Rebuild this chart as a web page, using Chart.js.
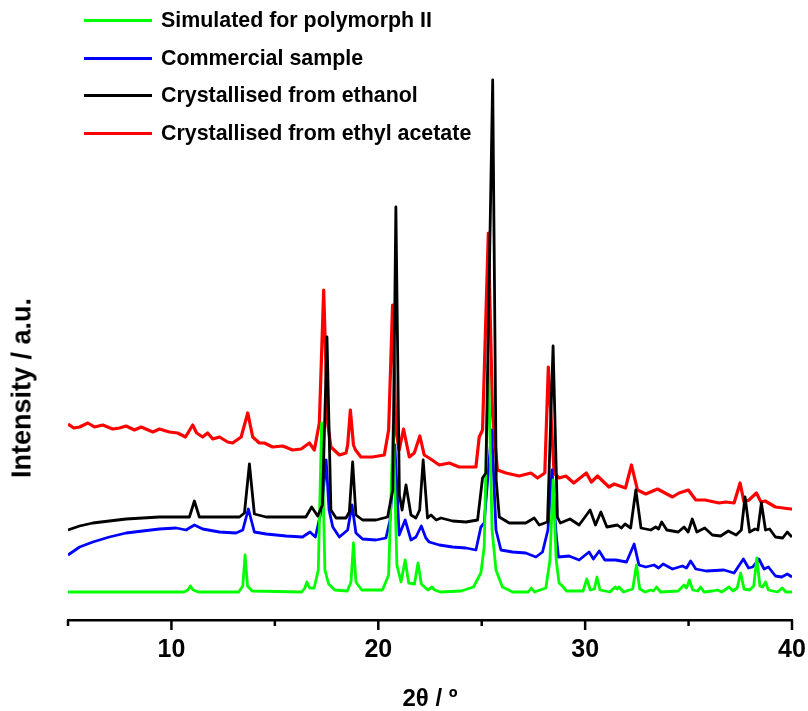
<!DOCTYPE html>
<html>
<head>
<meta charset="utf-8">
<title>PXRD patterns</title>
<script src="https://cdn.jsdelivr.net/npm/chart.js@4.4.1/dist/chart.umd.min.js"></script>
<style>
    body { margin: 0; background: #fff; }
    #wrap { position: relative; width: 808px; height: 711px; font-family: Arial, 'Liberation Sans', sans-serif; color: #000; }
    #xrdChart { position: absolute; left: 0; top: 0; }
    .xrd-legend { position: absolute; left: 84px; top: 2px; }
    .xrd-legend-row { display: flex; align-items: center; height: 37.6px; font-weight: bold; font-size: 21.4px; white-space: nowrap; }
    .xrd-legend-line { display: inline-block; width: 68px; height: 3px; margin-right: 9px; }
    .xrd-y-title { position: absolute; left: 22px; top: 388px; transform: translate(-50%, -50%) rotate(-90deg); font-weight: bold; font-size: 27px; white-space: nowrap; }
</style>
</head>
<body>
<div id="wrap">
    <canvas id="xrdChart" width="808" height="711"></canvas>
    <div class="xrd-legend" id="xrdLegend"></div>
    <div class="xrd-y-title">Intensity / a.u.</div>
</div>
<script>
// legend order, top to bottom
const seriesNames = ['Simulated for polymorph II', 'Commercial sample', 'Crystallised from ethanol', 'Crystallised from ethyl acetate'];
const seriesColors = ['#00ff00', '#0000ff', '#000000', '#ff0000'];
// drawing order: black on top, red at the back
const seriesOrder = [1, 2, 0, 3];

const angleMin = 5;
const angleMax = 40;
const angleStep = 5;
const intensityMax = 560;

// [2theta, intensity]
const simulatedPattern = [
    [5, 28], [10.6, 28], [10.8, 30], [10.92, 34], [11.05, 30], [11.3, 28], [13.25, 28], [13.45, 34], [13.56, 65],
    [13.68, 34], [13.9, 29], [16.3, 28], [16.45, 32], [16.55, 38], [16.68, 32], [16.9, 32], [17.1, 50], [17.26, 197],
    [17.42, 50], [17.6, 36], [17.9, 30], [18.5, 29], [18.68, 38], [18.8, 77], [18.92, 38], [19.2, 30], [20.2, 30],
    [20.5, 45], [20.72, 195], [20.9, 55], [21.1, 38], [21.3, 60], [21.47, 37], [21.75, 36], [21.92, 57], [22.08, 36],
    [22.4, 30], [22.6, 33], [22.72, 30], [23.0, 28], [24.0, 29], [24.6, 33], [24.96, 47], [25.12, 73], [25.32, 260],
    [25.5, 90], [25.69, 50], [26.0, 33], [26.5, 28], [27.25, 28], [27.4, 32], [27.55, 28], [28.1, 32], [28.3, 60],
    [28.45, 140], [28.6, 60], [28.74, 37], [28.9, 34], [29.1, 29], [29.9, 29], [30.08, 41], [30.25, 30], [30.45, 31],
    [30.57, 43], [30.72, 30], [31.2, 28], [31.45, 33], [31.55, 31], [31.64, 33], [31.85, 28], [32.3, 31], [32.48, 55],
    [32.64, 31], [32.9, 28], [33.17, 30], [33.3, 29], [33.45, 33], [33.65, 28], [34.5, 29], [34.78, 35], [34.9, 32],
    [35.04, 40], [35.2, 30], [35.45, 29], [35.58, 33], [35.75, 28], [36.15, 29], [36.4, 30], [36.6, 28], [36.96, 33],
    [37.15, 29], [37.35, 32], [37.52, 47], [37.68, 31], [37.95, 30], [38.15, 34], [38.3, 62], [38.45, 34], [38.58, 33],
    [38.72, 38], [38.86, 30], [39.3, 28], [39.53, 32], [39.7, 28], [40, 28]
];

const commercialPattern = [
    [5, 65], [5.56, 73], [6.2, 78], [7.0, 83], [7.81, 87], [8.61, 89], [9.42, 91], [10.23, 92], [10.71, 90], [11.11, 95],
    [11.51, 91], [12.32, 88], [13.12, 87], [13.45, 90], [13.72, 111], [14.01, 88], [14.58, 86], [15.54, 84], [16.34, 83],
    [16.7, 88], [16.96, 83], [17.25, 110], [17.48, 160], [17.62, 110], [17.8, 93], [18.12, 83], [18.52, 90], [18.73, 115],
    [18.92, 87], [19.24, 81], [19.89, 80], [20.37, 82], [20.57, 100], [20.8, 175], [21.01, 85], [21.3, 100], [21.58, 80],
    [21.82, 83], [22.08, 94], [22.3, 82], [22.46, 78], [22.95, 75], [23.59, 73], [24.24, 72], [24.72, 70], [24.96, 93],
    [25.12, 97], [25.48, 190], [25.69, 90], [25.93, 70], [26.49, 68], [27.13, 67], [27.62, 63], [27.94, 68], [28.2, 90],
    [28.4, 150], [28.6, 85], [28.71, 63], [29.22, 64], [29.71, 60], [30.19, 68], [30.4, 61], [30.68, 69], [30.95, 60],
    [31.48, 60], [32.0, 58], [32.37, 76], [32.6, 55], [32.93, 53], [33.33, 55], [33.55, 52], [33.77, 56], [34.22, 51],
    [34.7, 54], [34.9, 52], [35.1, 59], [35.35, 51], [35.85, 49], [36.71, 50], [37.2, 47], [37.65, 61], [37.9, 52],
    [38.1, 53], [38.4, 61], [38.65, 51], [38.86, 53], [39.2, 44], [39.5, 43], [39.77, 46], [40, 43]
];

const ethanolPattern = [
    [5, 90], [5.56, 94], [6.2, 97], [7.0, 99], [7.81, 101], [8.61, 102], [9.42, 103], [10.55, 103], [10.87, 103],
    [11.11, 119], [11.35, 103], [12.32, 103], [13.29, 103], [13.53, 107], [13.77, 156], [14.01, 106], [14.58, 103],
    [15.86, 103], [16.5, 103], [16.78, 113], [17.07, 104], [17.3, 115], [17.52, 283], [17.71, 110], [17.96, 102],
    [18.44, 102], [18.6, 108], [18.76, 158], [18.92, 105], [19.24, 100], [19.89, 100], [20.45, 103], [20.7, 130],
    [20.85, 413], [21.02, 125], [21.15, 110], [21.34, 135], [21.58, 105], [21.82, 102], [22.0, 110], [22.17, 160],
    [22.38, 102], [22.55, 105], [22.8, 100], [23.03, 102], [23.59, 99], [24.24, 98], [24.8, 100], [25.04, 142],
    [25.2, 147], [25.53, 540], [25.7, 140], [25.85, 103], [26.33, 97], [27.13, 97], [27.54, 102], [27.78, 95],
    [28.18, 98], [28.45, 274], [28.66, 103], [28.8, 97], [29.27, 101], [29.71, 95], [30.24, 110], [30.5, 95],
    [30.76, 108], [31.05, 93], [31.56, 95], [31.75, 92], [31.93, 96], [32.2, 92], [32.45, 130], [32.7, 92], [33.17, 90],
    [33.41, 93], [33.55, 91], [33.7, 98], [33.95, 90], [34.5, 88], [34.78, 93], [34.98, 88], [35.18, 101], [35.4, 88],
    [35.78, 92], [36.15, 85], [36.55, 84], [36.92, 89], [37.3, 85], [37.55, 90], [37.73, 123], [37.95, 88], [38.21, 91],
    [38.35, 90], [38.52, 117], [38.72, 90], [38.92, 91], [39.2, 83], [39.55, 82], [39.77, 88], [40, 83]
];

const ethylAcetatePattern = [
    [5, 196], [5.28, 192], [5.56, 193], [5.96, 197], [6.28, 193], [6.68, 195], [7.16, 191], [7.49, 192], [7.81, 194],
    [8.21, 190], [8.54, 193], [9.1, 188], [9.42, 191], [9.9, 188], [10.3, 187], [10.68, 183], [11.03, 195], [11.22, 187],
    [11.51, 183], [11.75, 187], [12.0, 181], [12.32, 183], [12.72, 178], [12.96, 177], [13.37, 183], [13.69, 207],
    [13.93, 183], [14.25, 177], [14.49, 177], [14.89, 173], [15.38, 174], [15.86, 170], [16.27, 171], [16.67, 177],
    [16.91, 170], [17.15, 197], [17.36, 330], [17.55, 197], [17.71, 173], [18.12, 165], [18.44, 167], [18.52, 175],
    [18.65, 210], [18.8, 175], [18.9, 170], [19.16, 163], [19.72, 163], [20.29, 165], [20.5, 190], [20.69, 315],
    [20.85, 190], [21.01, 170], [21.22, 191], [21.5, 163], [21.74, 167], [22.01, 184], [22.22, 165], [22.46, 162],
    [22.95, 155], [23.43, 157], [23.91, 153], [24.48, 153], [24.72, 153], [24.88, 183], [25.04, 190], [25.32, 387],
    [25.52, 207], [25.76, 150], [26.17, 147], [26.81, 144], [27.38, 147], [27.7, 142], [28.05, 147], [28.22, 253],
    [28.5, 147], [28.74, 142], [29.07, 144], [29.45, 137], [30.06, 147], [30.3, 138], [30.6, 144], [31.15, 133],
    [31.4, 136], [31.95, 132], [32.24, 155], [32.53, 130], [32.93, 126], [33.5, 131], [34.22, 123], [34.54, 127],
    [34.99, 130], [35.35, 120], [35.8, 120], [36.47, 117], [36.8, 118], [37.2, 117], [37.49, 137], [37.68, 118],
    [37.92, 120], [38.28, 127], [38.5, 118], [38.7, 119], [39.2, 113], [39.94, 111], [40, 111]
];

const seriesPatterns = [simulatedPattern, commercialPattern, ethanolPattern, ethylAcetatePattern];

function toPoints(pattern) {
    return pattern.map(function(pair) {
        return { x: pair[0], y: pair[1] };
    });
}

function buildLegend() {
    const box = document.getElementById('xrdLegend');
    seriesNames.forEach(function(name, i) {
        const row = document.createElement('div');
        row.className = 'xrd-legend-row';
        const line = document.createElement('span');
        line.className = 'xrd-legend-line';
        line.style.background = seriesColors[i];
        const label = document.createElement('span');
        label.textContent = name;
        row.appendChild(line);
        row.appendChild(label);
        box.appendChild(row);
    });
}

// origin style ticks: long at labelled values, short in between
const axisTickMarks = {
    id: 'axisTickMarks',
    afterDraw: function(chart) {
        const xScale = chart.scales.x;
        const ctx = chart.ctx;
        ctx.save();
        ctx.strokeStyle = '#000';
        ctx.lineWidth = 2.5;
        xScale.ticks.forEach(function(tick) {
            const px = xScale.getPixelForValue(tick.value);
            const len = tick.value % 10 === 0 ? 10 : 6;
            ctx.beginPath();
            ctx.moveTo(px, xScale.top);
            ctx.lineTo(px, xScale.top + len);
            ctx.stroke();
        });
        ctx.restore();
    }
};

function createXrdChart() {
    const canvas = document.getElementById('xrdChart');
    const fontFamily = "Arial, 'Liberation Sans', sans-serif";

    const datasets = seriesPatterns.map(function(pattern, i) {
        return {
            label: seriesNames[i],
            data: toPoints(pattern),
            borderColor: seriesColors[i],
            backgroundColor: seriesColors[i],
            borderWidth: i === 3 ? 3.2 : 2.8,
            borderJoinStyle: 'round',
            pointRadius: 0,
            tension: 0,
            order: seriesOrder[i]
        };
    });

    window.xrdChart = new Chart(canvas, {
        type: 'line',
        data: { datasets: datasets },
        options: {
            responsive: false,
            animation: false,
            events: [],
            layout: {
                padding: { left: 68, right: 16, top: 60, bottom: 0 }
            },
            plugins: {
                legend: { display: false },
                tooltip: { enabled: false }
            },
            scales: {
                x: {
                    type: 'linear',
                    min: angleMin,
                    max: angleMax,
                    grid: { display: false, drawTicks: true, tickLength: 10 },
                    border: { display: true, color: '#000', width: 2.5 },
                    ticks: {
                        stepSize: angleStep,
                        autoSkip: false,
                        maxRotation: 0,
                        color: '#000',
                        padding: 5,
                        font: { size: 25, weight: 'bold', family: fontFamily },
                        callback: function(value) {
                            return value % 10 === 0 ? value : '';
                        }
                    },
                    title: {
                        display: true,
                        text: '2θ / º',
                        color: '#000',
                        padding: { top: 0, bottom: 0 },
                        font: { size: 24, weight: 'bold', family: fontFamily, lineHeight: 1 }
                    },
                    afterFit: function(scale) {
                        // plot edges come from the layout padding, not the end labels
                        scale.height = 91;
                        scale.paddingLeft = 0;
                        scale.paddingRight = 0;
                    }
                },
                y: {
                    display: false,
                    min: 0,
                    max: intensityMax
                }
            }
        },
        plugins: [axisTickMarks]
    });
}

buildLegend();
createXrdChart();
</script>
</body>
</html>
